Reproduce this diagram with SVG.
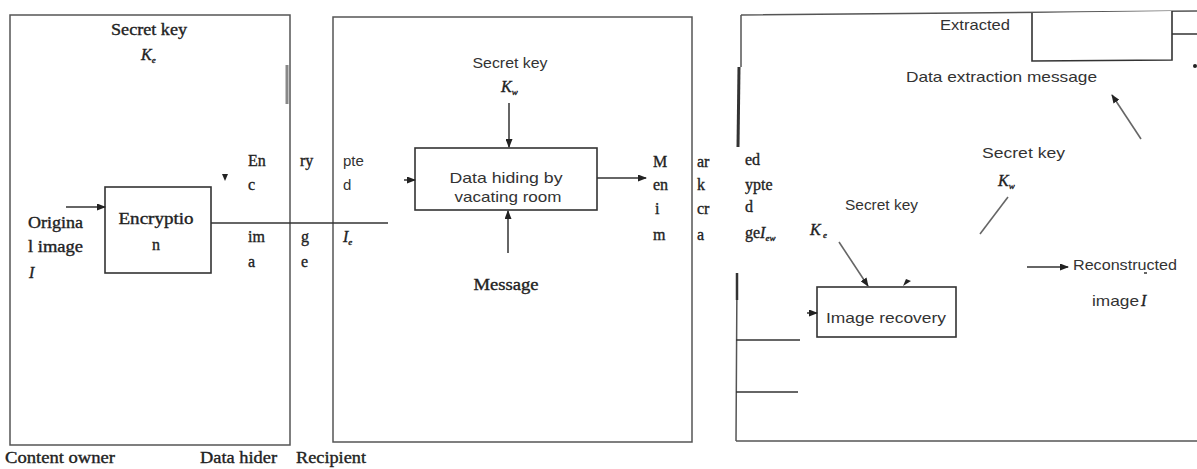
<svg xmlns="http://www.w3.org/2000/svg" width="1197" height="469" viewBox="0 0 1197 469">
<style>
.panel{fill:none;stroke:#555;stroke-width:1.5}
.box{fill:#fff;stroke:#333;stroke-width:1.6}
.ln{fill:none;stroke:#333;stroke-width:1.5}
.gl{fill:none;stroke:#666;stroke-width:1.6}
.s{font-family:"Liberation Serif","Times New Roman",serif;font-size:16px;fill:#222;stroke:#222;stroke-width:0.35}
.a{font-family:"Liberation Sans",Arial,sans-serif;font-size:15px;fill:#333}
.i{font-style:italic}
.sub{font-size:9px}
</style>
<defs>
<marker id="ah" markerWidth="9" markerHeight="7" refX="8" refY="3.5" orient="auto" markerUnits="userSpaceOnUse">
<polygon points="0,0 9,3.5 0,7" fill="#222"/>
</marker>
</defs>
<rect width="1197" height="469" fill="#fff"/>

<g id="panel-owner">
<rect class="panel" x="10" y="15" width="280" height="430"/>
<line x1="287" y1="65" x2="287" y2="104" stroke="#888" stroke-width="3"/>
<text class="s" x="149" y="35" text-anchor="middle" textLength="76" lengthAdjust="spacingAndGlyphs">Secret key</text>
<text class="s i" x="141" y="60">K<tspan class="sub" dy="3">e</tspan></text>
<text class="s" x="28" y="228" textLength="55" lengthAdjust="spacingAndGlyphs">Origina</text>
<text class="s" x="28" y="252" textLength="55" lengthAdjust="spacingAndGlyphs">l image</text>
<text class="s i" x="29" y="278">I</text>
<text class="s" x="248" y="166">En</text>
<text class="s" x="248" y="190">c</text>
<text class="s" x="248" y="242">im</text>
<text class="s" x="248" y="267">a</text>
<text class="s" x="300" y="166">ry</text>
<text class="s" x="301" y="242">g</text>
<text class="s" x="301" y="267">e</text>
</g>

<g id="encryption">
<rect class="box" x="105" y="187" width="106" height="86"/>
<text class="s" x="156" y="224" text-anchor="middle" textLength="75" lengthAdjust="spacingAndGlyphs">Encryptio</text>
<text class="s" x="156" y="250" text-anchor="middle">n</text>
</g>

<g id="panel-hider">
<rect class="panel" x="333" y="17" width="359" height="425"/>
<text class="a" x="343" y="166">pte</text>
<text class="a" x="343" y="190">d</text>
<text class="s i" x="343" y="242">I<tspan class="sub" dy="3">e</tspan></text>
<text class="a" x="510" y="68" text-anchor="middle" textLength="75" lengthAdjust="spacingAndGlyphs">Secret key</text>
<text class="s i" x="501" y="92">K<tspan class="sub" dy="3">w</tspan></text>
<text class="s" x="506" y="290" text-anchor="middle" textLength="65" lengthAdjust="spacingAndGlyphs">Message</text>
<text class="s" x="653" y="167">M</text>
<text class="s" x="653" y="190">en</text>
<text class="s" x="655" y="214">i</text>
<text class="s" x="653" y="240">m</text>
<text class="s" x="697" y="167">ar</text>
<text class="s" x="697" y="190">k</text>
<text class="s" x="697" y="214">cr</text>
<text class="s" x="697" y="240">a</text>
</g>

<g id="data-hiding">
<rect class="box" x="415" y="148" width="182" height="62"/>
<text class="a" x="506" y="183" text-anchor="middle" textLength="113" lengthAdjust="spacingAndGlyphs">Data hiding by</text>
<text class="a" x="508" y="202" text-anchor="middle" textLength="107" lengthAdjust="spacingAndGlyphs">vacating room</text>
</g>

<g id="panel-recipient">
<path class="panel" d="M741 15 L1197 11 M736 441 L1197 441 M741 15 L741 67 M737 273 L736 441"/>
<line x1="739" y1="67" x2="738" y2="147" stroke="#333" stroke-width="3"/>
<line x1="737" y1="273" x2="737" y2="300" stroke="#333" stroke-width="2.5"/>
<line x1="736" y1="340" x2="800" y2="340" class="ln"/>
<line x1="736" y1="392" x2="798" y2="392" class="ln"/>
<text class="s" x="745" y="165">ed</text>
<text class="s" x="745" y="190">ypte</text>
<text class="s" x="745" y="212">d</text>
<text class="s" x="745" y="238">ge<tspan class="i">I</tspan><tspan class="i sub" dy="3">ew</tspan></text>
<text class="a" x="845" y="210" textLength="73" lengthAdjust="spacingAndGlyphs">Secret key</text>
<text class="s i" x="810" y="235">K<tspan class="sub" dy="3"> e</tspan></text>
<text class="a" x="940" y="30" textLength="70" lengthAdjust="spacingAndGlyphs">Extracted</text>
<text class="a" x="906" y="82" textLength="191" lengthAdjust="spacingAndGlyphs">Data extraction message</text>
<text class="a" x="982" y="158" textLength="83" lengthAdjust="spacingAndGlyphs">Secret key</text>
<text class="s i" x="998" y="186">K<tspan class="sub" dy="3">w</tspan></text>
<text class="a" x="1073" y="270" textLength="104" lengthAdjust="spacingAndGlyphs">Reconstructed</text>
<text class="a" x="1092" y="306" textLength="47" lengthAdjust="spacingAndGlyphs">image</text>
<text class="s i" x="1141" y="306">I</text>
<line x1="1144" y1="273" x2="1147" y2="273" stroke="#333" stroke-width="1.5"/>
<circle cx="1195" cy="66" r="2" fill="#222"/>
</g>

<g id="extraction-box">
<path class="box" d="M1032 13 L1032 61 L1172 60 L1172 11"/>
<line class="ln" x1="1172" y1="34" x2="1197" y2="34"/>
</g>

<g id="image-recovery">
<rect class="box" x="817" y="287" width="139" height="50"/>
<text class="a" x="886" y="323" text-anchor="middle" textLength="120" lengthAdjust="spacingAndGlyphs">Image recovery</text>
</g>

<g id="connectors">
<line class="ln" x1="66" y1="207" x2="105" y2="207" marker-end="url(#ah)"/>
<line class="ln" x1="211" y1="223" x2="388" y2="223"/>
<polygon points="222,174 228,174 225,181" fill="#222"/>
<line class="ln" x1="404" y1="180" x2="415" y2="180" marker-end="url(#ah)"/>
<line class="ln" x1="509" y1="103" x2="509" y2="147" marker-end="url(#ah)"/>
<line class="ln" x1="508" y1="253" x2="508" y2="211" marker-end="url(#ah)"/>
<line class="ln" x1="597" y1="178" x2="646" y2="178" marker-end="url(#ah)"/>
<line class="gl" x1="839" y1="242" x2="868" y2="286" marker-end="url(#ah)"/>
<polygon points="903,286 911,281 906,279" fill="#222"/>
<line class="ln" x1="807" y1="313" x2="817" y2="313" marker-end="url(#ah)"/>
<line class="gl" x1="1008" y1="197" x2="980" y2="234"/>
<line class="gl" x1="1141" y1="139" x2="1112" y2="95" marker-end="url(#ah)"/>
<line class="ln" x1="1027" y1="267" x2="1068" y2="267" marker-end="url(#ah)"/>
</g>

<g id="captions">
<text class="s" x="5" y="463" textLength="110" lengthAdjust="spacingAndGlyphs">Content owner</text>
<text class="s" x="200" y="463" textLength="77" lengthAdjust="spacingAndGlyphs">Data hider</text>
<text class="s" x="296" y="463" textLength="70" lengthAdjust="spacingAndGlyphs">Recipient</text>
</g>
</svg>
